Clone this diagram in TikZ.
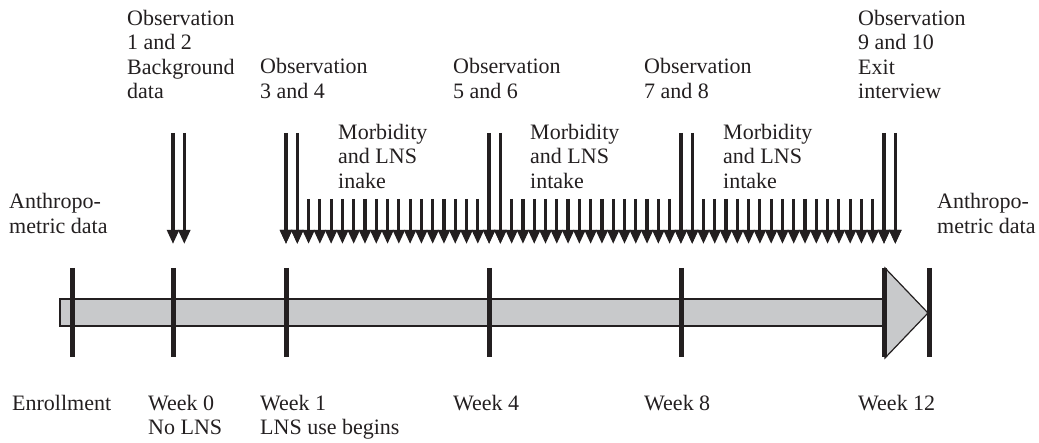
\documentclass[tikz,border=0pt]{standalone}
\usepackage{fontspec}
\setmainfont{Liberation Serif}
\usepackage{tikz}
\usetikzlibrary{arrows.meta}
\definecolor{ink}{HTML}{231F20}
\definecolor{barfill}{HTML}{C8C9CB}
\tikzstyle{txt} = [anchor=north west, align=left, inner sep=0pt, text=ink, font=\fontsize{22}{24.5}\selectfont]
\tikzstyle{weekline} = [draw=ink, line width=5pt]
\tikzstyle{timebar} = [draw=ink, line width=1.2pt, fill=barfill]
\tikzstyle{dayarrow} = [draw=ink, line width=3.2pt, -{Triangle[width=11.6pt,length=14pt]}]

\begin{document}
\begin{tikzpicture}[x=1pt,y=-1pt]
	\useasboundingbox (0,0) rectangle (1039,443);
	% time bar with arrow head
	\draw[timebar] (60,299) rectangle (885,326);
	\draw[timebar] (885,268) -- (928,313) -- (885,358) -- cycle;
	\foreach \x in {72,173,286,489,681,884,929}
		\draw[weekline] (\x,268) -- (\x,357);
	% daily arrows, week 1 to week 12
	\foreach \k in {0,...,54} {
		\coordinate (s\k) at ({286+11.283*\k},199);
		\coordinate (e\k) at ({286+11.283*\k},244);
		\draw[dayarrow] (s\k) -- (e\k);
	}
	% observation arrows
	\foreach \k in {0,1,18,19,35,36,53,54} {
		\coordinate (o\k) at ({286+11.283*\k},133);
		\draw[dayarrow] (o\k) -- (e\k);
	}
	\coordinate (oa) at (173,133);
	\coordinate (ea) at (173,244);
	\coordinate (ob) at (184.3,133);
	\coordinate (eb) at (184.3,244);
	\draw[dayarrow] (oa) -- (ea);
	\draw[dayarrow] (ob) -- (eb);
	% labels
	\node[txt] (anthroL) at (9,193.5) {Anthropo-\\metric data};
	\node[txt] (anthroR) at (937,193.5) {Anthropo-\\metric data};
	\node[txt] (obs12) at (127,10) {Observation\\1 and 2\\Background\\data};
	\node[txt] (obs34) at (260,58.5) {Observation\\3 and 4};
	\node[txt] (obs56) at (453,58.5) {Observation\\5 and 6};
	\node[txt] (obs78) at (644,58.5) {Observation\\7 and 8};
	\node[txt] (obs910) at (858,10) {Observation\\9 and 10\\Exit\\interview};
	\node[txt] (morb1) at (338,124) {Morbidity\\and LNS\\inake};
	\node[txt] (morb2) at (530,124) {Morbidity\\and LNS\\intake};
	\node[txt] (morb3) at (723,124) {Morbidity\\and LNS\\intake};
	\node[txt] (enrol) at (12,395) {Enrollment};
	\node[txt] (wk0) at (148,395) {Week 0\\No LNS};
	\node[txt] (wk1) at (260,395) {Week 1\\LNS use begins};
	\node[txt] (wk4) at (453,395) {Week 4};
	\node[txt] (wk8) at (644,395) {Week 8};
	\node[txt] (wk12) at (858,395) {Week 12};
\end{tikzpicture}
\end{document}
